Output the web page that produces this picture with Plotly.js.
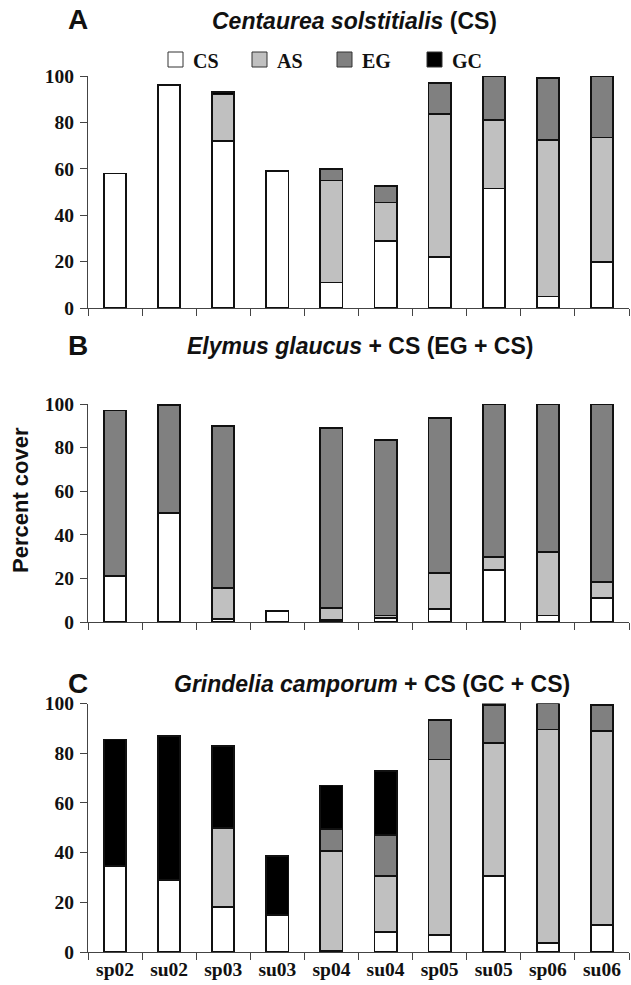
<!DOCTYPE html>
<html>
<head>
<meta charset="utf-8">
<script src="https://cdn.plot.ly/plotly-3.0.1.min.js"></script>
<style>html,body{margin:0;padding:0;background:#fff;}#chart{width:631px;height:985px;}</style>
</head>
<body>
<div id="chart"></div>
<script>
const categories = ['sp02','su02','sp03','su03','sp04','su04','sp05','su05','sp06','su06'];
const species = ['CS','AS','EG','GC'];
const speciesColors = ['#ffffff','#c0c0c0','#808080','#000000'];

// Panel A: Centaurea solstitialis (CS)
const A_CS = [58, 96, 72, 59, 11, 29, 22, 51.5, 5, 20];
const A_AS = [0, 0, 20, 0, 44, 16.5, 61.5, 29.5, 67.5, 53.5];
const A_EG = [0, 0, 0, 0, 5, 7, 13.5, 19, 26.8, 26.5];
const A_GC = [0, 0, 1, 0, 0, 0, 0, 0, 0, 0];

// Panel B: Elymus glaucus + CS
const B_CS = [21, 50, 1.2, 5, 1, 2, 6, 24, 3, 11];
const B_AS = [0, 0, 14.3, 0, 5.5, 1, 16.5, 6, 29, 7.5];
const B_EG = [76, 49.5, 74.5, 0, 82.5, 80.5, 71, 70, 68, 81.5];
const B_GC = [0, 0, 0, 0, 0, 0, 0, 0, 0, 0];

// Panel C: Grindelia camporum + CS
const C_CS = [34.5, 29, 18, 15, 0.5, 8, 7, 30.5, 3.5, 11];
const C_AS = [0, 0, 32, 0, 40, 22.5, 70.5, 53.5, 86, 78];
const C_EG = [0, 0, 0, 0, 9, 16.5, 16, 15.5, 10.5, 10.5];
const C_GC = [51, 58, 33, 23.5, 17.5, 26, 0, 0.5, 0, 0];

const yTicks = [0, 20, 40, 60, 80, 100];

const panels = [
  {series:[A_CS, A_AS, A_EG, A_GC], xa:'x',  ya:'y'},
  {series:[B_CS, B_AS, B_EG, B_GC], xa:'x2', ya:'y2'},
  {series:[C_CS, C_AS, C_EG, C_GC], xa:'x3', ya:'y3'}
];

const traces = [];
panels.forEach(p => {
  p.series.forEach((vals, i) => {
    traces.push({
      type:'bar', x:categories, y:vals, name:species[i],
      xaxis:p.xa, yaxis:p.ya, showlegend:false,
      marker:{color:speciesColors[i], line:{color:'#111', width:1.8}},
      hoverinfo:'x+y+name'
    });
  });
});

const W = 631, H = 985;
const px = v => v / W;
const py = v => 1 - v / H;
const xDom = [px(88), px(629)];

const serif = 'Liberation Serif, Times New Roman, serif';
const sans = 'Liberation Sans, Arial, sans-serif';

function xAxis(anchor, labels) {
  return {
    domain:xDom, anchor:anchor, type:'category', range:[-0.5, 9.5],
    tickson:'boundaries', ticks:'outside', ticklen:7, tickwidth:1, tickcolor:'#444',
    showline:true, linecolor:'#444', linewidth:1, showgrid:false, zeroline:false,
    showticklabels:labels, fixedrange:true,
    tickfont:{family:serif, size:19.5, color:'#111', weight:'bold'}
  };
}
function yAxis(anchor, top, bottom) {
  return {
    domain:[py(bottom), py(top)], anchor:anchor, range:[0, 100],
    tickvals:yTicks, ticktext:yTicks.map(String), ticks:'outside', ticklen:7, tickwidth:1, tickcolor:'#444',
    showline:true, linecolor:'#444', linewidth:1, showgrid:false, zeroline:false, fixedrange:true,
    ticklabelstandoff:2,
    tickfont:{family:serif, size:19.5, color:'#111', weight:'bold'}
  };
}

const annotations = [];
const shapes = [];
function addText(text, x, y, font, xanchor) {
  annotations.push({text:text, x:px(x), y:py(y), xref:'paper', yref:'paper',
    showarrow:false, xanchor:xanchor || 'center', yanchor:'middle', font:font});
}
const titleFont = {family:sans, size:23, color:'#111', weight:'bold'};
const letterFont = {family:sans, size:28, color:'#111', weight:'bold'};
addText('A', 78, 20, letterFont);
addText('<i>Centaurea solstitialis</i> (CS)', 354, 21, titleFont);
addText('B', 78, 345, letterFont);
addText('<i>Elymus glaucus</i> + CS (EG + CS)', 360, 346, titleFont);
addText('C', 78, 683, letterFont);
addText('<i>Grindelia camporum</i> + CS (GC + CS)', 372, 684, titleFont);

annotations.push({text:'Percent cover', x:px(21), y:py(500), xref:'paper', yref:'paper',
  showarrow:false, textangle:-90, xanchor:'center', yanchor:'middle',
  font:{family:sans, size:22, color:'#111', weight:'bold'}});

// custom legend
const legendBoxX = [168, 252, 337, 427];
species.forEach((s, i) => {
  const x0 = legendBoxX[i];
  shapes.push({type:'rect', xref:'paper', yref:'paper', x0:px(x0), x1:px(x0 + 15),
    y0:py(67), y1:py(52), fillcolor:speciesColors[i], line:{color:'#333', width:1}});
  addText(s, x0 + 23, 61, {family:serif, size:20, color:'#111', weight:'bold'}, 'left');
});

const layout = {
  width:W, height:H, margin:{l:0, r:0, t:0, b:0},
  paper_bgcolor:'#fff', plot_bgcolor:'#fff',
  barmode:'stack', bargap:0.59, showlegend:false,
  xaxis:xAxis('y', false), yaxis:yAxis('x', 76, 308),
  xaxis2:xAxis('y2', false), yaxis2:yAxis('x2', 404, 622),
  xaxis3:xAxis('y3', true), yaxis3:yAxis('x3', 703.5, 952),
  annotations:annotations, shapes:shapes
};

Plotly.newPlot('chart', traces, layout, {displayModeBar:false, responsive:false});
</script>
</body>
</html>
